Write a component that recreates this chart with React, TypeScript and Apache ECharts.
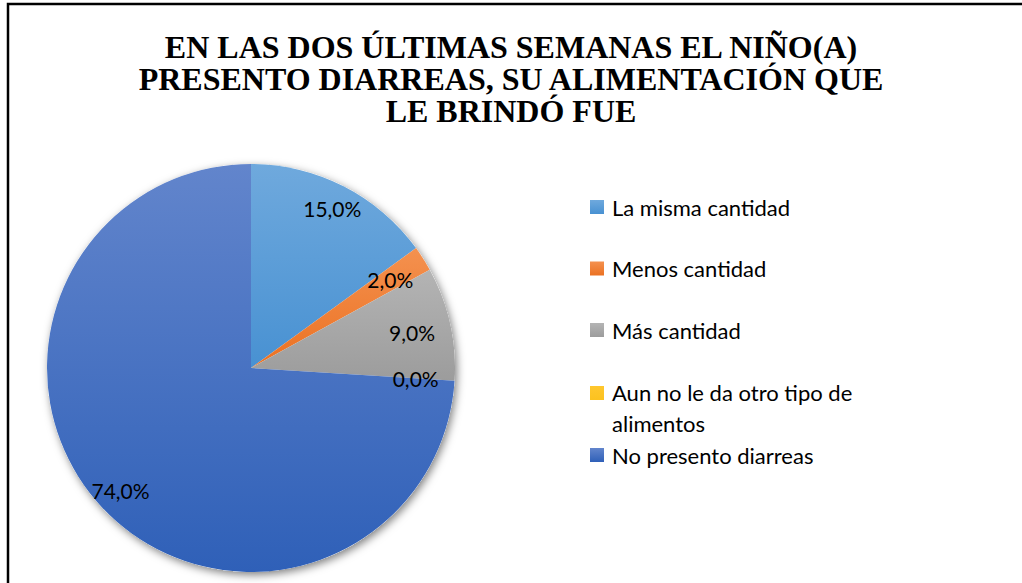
import React, { useEffect, useRef } from "react";
import * as echarts from "echarts";

const TITLE_LINES = [
  "EN LAS DOS ÚLTIMAS SEMANAS EL NIÑO(A)",
  "PRESENTO DIARREAS, SU ALIMENTACIÓN QUE",
  "LE BRINDÓ FUE",
];
const categories = [
  "La misma cantidad",
  "Menos cantidad",
  "Más cantidad",
  "Aun no le da otro tipo de alimentos",
  "No presento diarreas",
];
const legendLabels = [
  "La misma cantidad",
  "Menos cantidad",
  "Más cantidad",
  "Aun no le da otro tipo de\nalimentos",
  "No presento diarreas",
];
const percentages = [15.0, 2.0, 9.0, 0.0, 74.0];
const colorTop = ["#6FA9DD", "#F4914F", "#B4B4B4", "#FFC72E", "#6285CC"];
const colorBottom = ["#4891D2", "#EB7122", "#9C9C9C", "#F5B800", "#2F60B8"];

const FONT = "Lato, 'Noto Sans', sans-serif";
const CENTER = [251, 368];
const R = 204;

function grad(i: number) {
  return new echarts.graphic.LinearGradient(0, 0, 0, 1, [
    { offset: 0, color: colorTop[i] },
    { offset: 1, color: colorBottom[i] },
  ]);
}

export default function App() {
  const ref = useRef<HTMLDivElement>(null);
  useEffect(() => {
    if (!ref.current) return;
    const chart = echarts.init(ref.current, undefined, { renderer: "svg" });
    const total = percentages.reduce((a, b) => a + b, 0);
    const fmt = (p: any) => `${Number(p.value).toFixed(1).replace(".", ",")}%`;
    const labelData = (big: boolean) =>
      categories.map((c, i) => ({
        name: c,
        value: percentages[i],
        label: { show: big ? percentages[i] >= 10 : percentages[i] < 10 },
      }));
    const labelSeries = (r0: number, big: boolean) => ({
      type: "pie",
      center: CENTER,
      radius: [r0, R],
      startAngle: 90,
      clockwise: true,
      silent: true,
      avoidLabelOverlap: false,
      itemStyle: { color: "rgba(0,0,0,0)", borderWidth: 0 },
      emphasis: { disabled: true },
      label: {
        show: true,
        position: "inside",
        formatter: fmt,
        color: "#000",
        fontFamily: FONT,
        fontSize: 21,
      },
      labelLine: { show: false },
      data: labelData(big),
    });
    const legendBase = {
      orient: "vertical",
      left: 590,
      padding: 0,
      selectedMode: false,
      itemWidth: 14,
      itemHeight: 14,
      icon: "rect",
      itemStyle: { borderWidth: 0 },
      textStyle: {
        fontFamily: FONT,
        fontSize: 22,
        lineHeight: 24,
        color: "#000",
        padding: [0, 0, 0, 3],
      },
      formatter: (name: string) => legendLabels[categories.indexOf(name)],
    };
    chart.setOption({
      animation: false,
      backgroundColor: "#fff",
      title: {
        text: TITLE_LINES.join("\n"),
        left: "center",
        top: 26,
        textStyle: {
          fontFamily: "'Liberation Serif', 'Times New Roman', serif",
          fontWeight: "bold",
          fontSize: 32,
          lineHeight: 32,
          color: "#000",
        },
      },
      legend: [
        { ...legendBase, top: 195, itemGap: 37.5, data: categories.slice(0, 3) },
        {
          ...legendBase,
          top: 377,
          itemHeight: 44,
          textStyle: { ...legendBase.textStyle, lineHeight: 31 },
          data: [{ name: categories[3], icon: "path://M0 0H14V14H0ZM0 44L14 44" }],
        },
        { ...legendBase, top: 443, data: categories.slice(4) },
      ],
      graphic: [
        {
          type: "rect",
          z: -10,
          silent: true,
          shape: { x: 8, y: 4, width: 1100, height: 700 },
          style: { fill: "none", stroke: "#000", lineWidth: 2.5 },
        },
      ],
      series: [
        {
          type: "pie",
          center: CENTER,
          radius: R,
          silent: true,
          label: { show: false },
          labelLine: { show: false },
          emphasis: { disabled: true },
          itemStyle: {
            color: "#fff",
            borderWidth: 0,
            shadowBlur: 8,
            shadowOffsetX: 2,
            shadowOffsetY: 3,
            shadowColor: "rgba(0,0,0,0.5)",
          },
          data: [{ name: "_shadow", value: total }],
        },
        {
          type: "pie",
          center: CENTER,
          radius: R,
          startAngle: 90,
          clockwise: true,
          silent: true,
          label: { show: false },
          labelLine: { show: false },
          emphasis: { disabled: true },
          itemStyle: { borderWidth: 0 },
          data: categories.map((c, i) => ({
            name: c,
            value: percentages[i],
            itemStyle: { color: grad(i) },
          })),
        },
        labelSeries(148, true),
        labelSeries(120, false),
      ],
    });
    return () => chart.dispose();
  }, []);
  return (
    <div
      ref={ref}
      style={{ position: "absolute", left: 0, top: 0, width: 1022, height: 583 }}
    />
  );
}
